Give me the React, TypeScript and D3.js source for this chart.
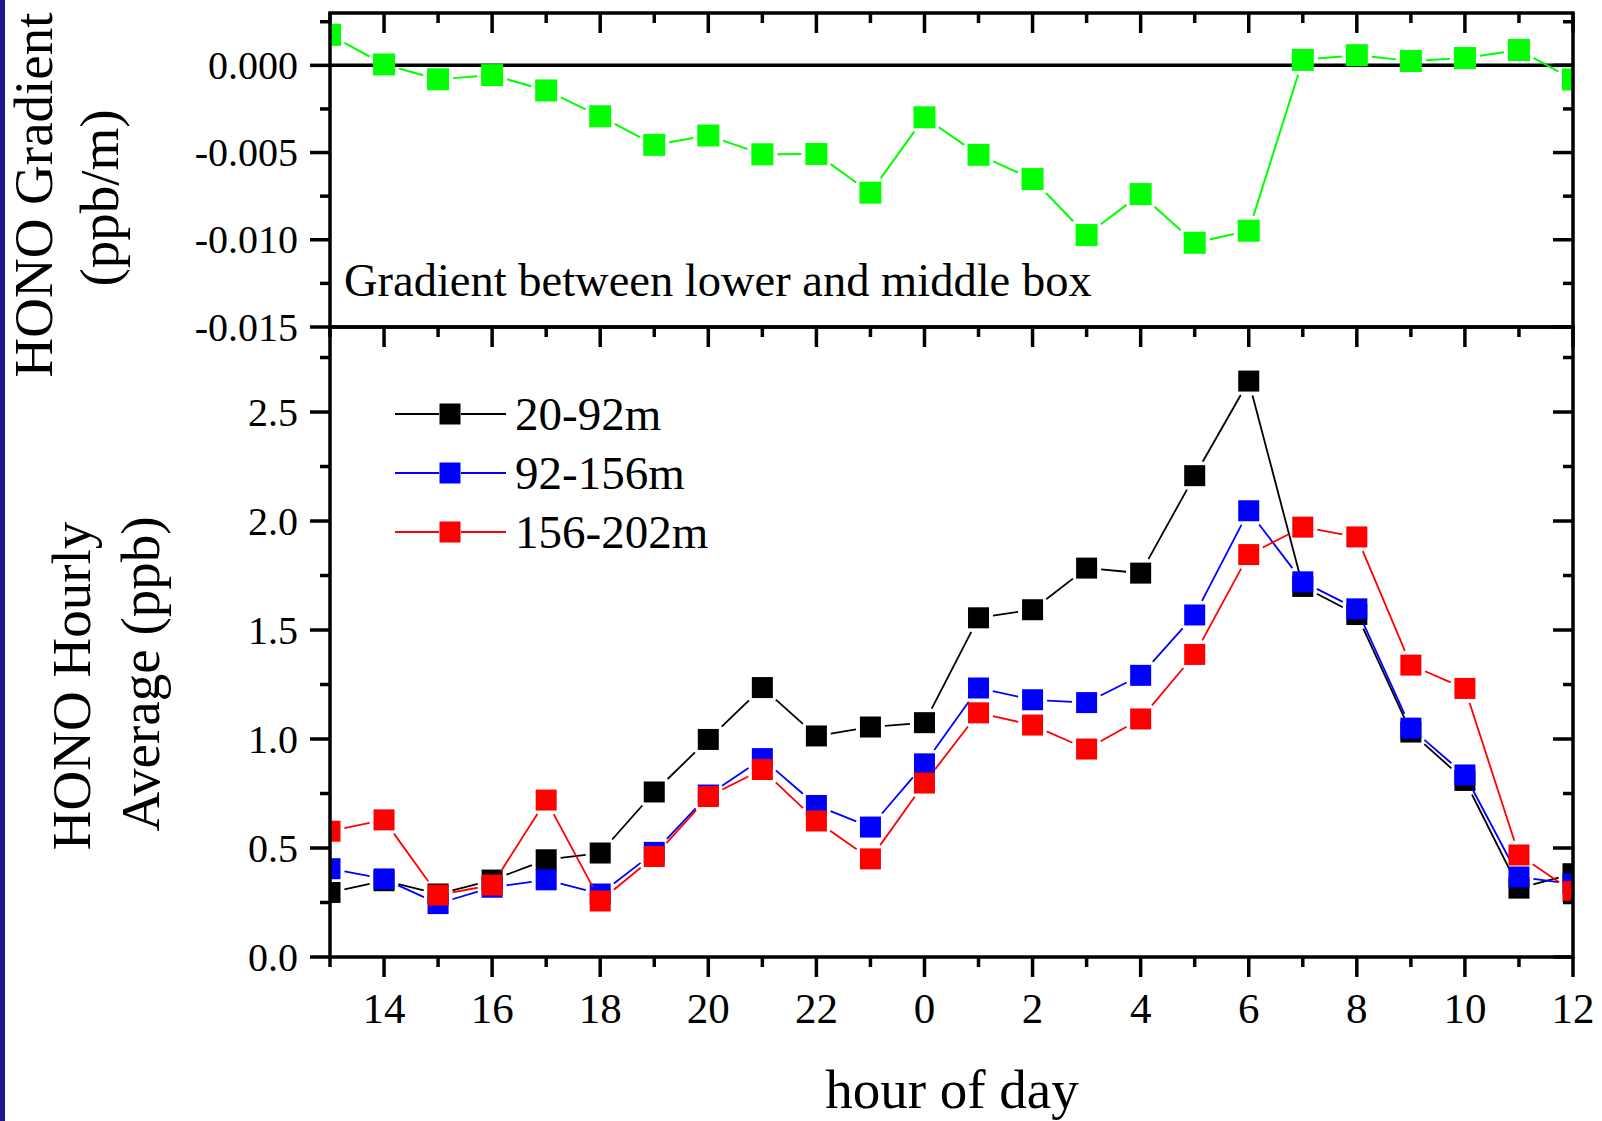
import React from "react";
import * as d3 from "d3";

// ---------- data ----------
const hours = [13, 14, 15, 16, 17, 18, 19, 20, 21, 22, 23, 0, 1, 2, 3, 4, 5, 6, 7, 8, 9, 10, 11, 12];

const gradient = [0.00175, 0.00005, -0.0008, -0.00056, -0.00144, -0.00292, -0.00456, -0.00402, -0.0051, -0.00508, -0.0073, -0.00298,
  -0.00513, -0.00652, -0.00973, -0.00738, -0.01017, -0.00948, 0.00031, 0.00058, 0.00025, 0.00042, 0.00088, -0.00081];

const s20_92 = [0.296, 0.35, 0.289, 0.353, 0.446, 0.477, 0.757, 0.998, 1.236, 1.014, 1.055, 1.075,
  1.556, 1.593, 1.784, 1.761, 2.208, 2.642, 1.70, 1.571, 1.032, 0.81, 0.316, 0.382];
const s92_156 = [0.405, 0.358, 0.245, 0.32, 0.354, 0.289, 0.48, 0.743, 0.91, 0.695, 0.596, 0.886,
  1.234, 1.18, 1.167, 1.292, 1.569, 2.047, 1.721, 1.597, 1.05, 0.835, 0.367, 0.335];
const s156_202 = [0.577, 0.629, 0.284, 0.33, 0.72, 0.257, 0.461, 0.736, 0.86, 0.624, 0.45, 0.798,
  1.12, 1.064, 0.954, 1.092, 1.388, 1.846, 1.972, 1.927, 1.339, 1.232, 0.468, 0.30];

const seriesNames = ["20-92m", "92-156m", "156-202m"];
const seriesColors = ["#000000", "#0000ff", "#ff0000"];
const seriesValues = [s20_92, s92_156, s156_202];

const topTickValues = [0, -0.005, -0.01, -0.015];
const topTickLabels = ["0.000", "-0.005", "-0.010", "-0.015"];
const topMinorTicks = [0.0025, -0.0025, -0.0075, -0.0125];
const botTickValues = [0, 0.5, 1, 1.5, 2, 2.5];
const botTickLabels = ["0.0", "0.5", "1.0", "1.5", "2.0", "2.5"];
const botMinorTicks = [0.25, 0.75, 1.25, 1.75, 2.25, 2.75];

// ---------- layout ----------
const W = 1602, H = 1121;
const L = 330, R = 1573;
const T1 = 13, B1 = 327, B2 = 957;
const FONT = "'Liberation Serif', 'Times New Roman', serif";
const MS = 21; // marker size

const x = d3.scaleLinear().domain([0, hours.length - 1]).range([L, R]);
const yTop = d3.scaleLinear().domain([-0.015, 0.003]).range([B1, T1]);
const yBot = d3.scaleLinear().domain([0, 2.89]).range([B2, B1]);

function trimmedSegments(pts: [number, number][], half: number, gap: number) {
  const segs: { x1: number; y1: number; x2: number; y2: number }[] = [];
  for (let i = 0; i < pts.length - 1; i++) {
    const [ax, ay] = pts[i];
    const [bx, by] = pts[i + 1];
    const dx = bx - ax, dy = by - ay;
    const len = Math.hypot(dx, dy);
    if (len === 0) continue;
    const ux = dx / len, uy = dy / len;
    const t = half / Math.max(Math.abs(ux), Math.abs(uy)) + gap;
    if (2 * t >= len) continue;
    segs.push({ x1: ax + ux * t, y1: ay + uy * t, x2: bx - ux * t, y2: by - uy * t });
  }
  return segs;
}

function Series({ values, y, color, lw, size }: { values: number[]; y: d3.ScaleLinear<number, number>; color: string; lw: number; size: number }) {
  const pts: [number, number][] = values.map((v, i) => [x(i), y(v)]);
  const segs = trimmedSegments(pts, size / 2, 4);
  return (
    <g>
      {segs.map((s, i) => (
        <line key={"l" + i} x1={s.x1} y1={s.y1} x2={s.x2} y2={s.y2} stroke={color} strokeWidth={lw} />
      ))}
      {pts.map(([px, py], i) => (
        <rect key={"m" + i} x={px - size / 2} y={py - size / 2} width={size} height={size} fill={color} />
      ))}
    </g>
  );
}

export default function App() {
  const axisW = 3.5;
  const tickW = 3.5;
  const major = 20, minor = 10;
  const idx = hours.map((_, i) => i);

  return (
    <svg width={W} height={H} style={{ position: "absolute", left: 0, top: 0, background: "#ffffff" }} fontFamily={FONT}>
      <defs>
        <clipPath id="clipTop"><rect x={L} y={T1} width={R - L} height={B1 - T1} /></clipPath>
        <clipPath id="clipBot"><rect x={L} y={B1} width={R - L} height={B2 - B1} /></clipPath>
      </defs>
      <rect x={0} y={0} width={W} height={H} fill="#ffffff" />
      <rect x={0} y={0} width={5} height={H} fill="#1b1690" />

      {/* ---------- top panel ---------- */}
      <g clipPath="url(#clipTop)">
        <line x1={L} x2={R} y1={yTop(0)} y2={yTop(0)} stroke="#000" strokeWidth={3.5} />
        <Series values={gradient} y={yTop} color="#00ff00" lw={2} size={22} />
      </g>
      <text x={344} y={296} fontSize={46.5} fill="#000">Gradient between lower and middle box</text>

      {/* top panel ticks: top axis inward */}
      {idx.map((i) => (
        <line key={"tt" + i} x1={x(i)} x2={x(i)} y1={T1} y2={T1 + (hours[i] % 2 === 0 ? major : minor)} stroke="#000" strokeWidth={tickW} />
      ))}
      {/* top panel left ticks (outward) and right ticks (inward) */}
      {topTickValues.map((v, i) => (
        <g key={"ty" + i}>
          <line x1={L - major} x2={L} y1={yTop(v)} y2={yTop(v)} stroke="#000" strokeWidth={tickW} />
          <line x1={R - major} x2={R} y1={yTop(v)} y2={yTop(v)} stroke="#000" strokeWidth={tickW} />
          <text x={298} y={yTop(v)} dy="0.34em" textAnchor="end" fontSize={40} fill="#000">{topTickLabels[i]}</text>
        </g>
      ))}
      {topMinorTicks.map((v, i) => (
        <g key={"tym" + i}>
          <line x1={L - minor} x2={L} y1={yTop(v)} y2={yTop(v)} stroke="#000" strokeWidth={tickW} />
          <line x1={R - minor} x2={R} y1={yTop(v)} y2={yTop(v)} stroke="#000" strokeWidth={tickW} />
        </g>
      ))}

      {/* ---------- bottom panel ---------- */}
      <g clipPath="url(#clipBot)">
        {seriesValues.map((vals, k) => (
          <Series key={"s" + k} values={vals} y={yBot} color={seriesColors[k]} lw={1.8} size={MS} />
        ))}
      </g>

      {/* legend */}
      {seriesNames.map((name, k) => {
        const cy = 414 + k * 59;
        return (
          <g key={"lg" + k}>
            <line x1={395} x2={439} y1={cy} y2={cy} stroke={seriesColors[k]} strokeWidth={1.8} />
            <line x1={461} x2={506} y1={cy} y2={cy} stroke={seriesColors[k]} strokeWidth={1.8} />
            <rect x={450 - MS / 2} y={cy - MS / 2} width={MS} height={MS} fill={seriesColors[k]} />
            <text x={515} y={cy + 16} fontSize={47} fill="#000">{name}</text>
          </g>
        );
      })}

      {/* bottom panel x ticks: top inward, bottom outward */}
      {idx.map((i) => {
        const len = hours[i] % 2 === 0 ? major : minor;
        return (
          <g key={"bx" + i}>
            <line x1={x(i)} x2={x(i)} y1={B1} y2={B1 + len} stroke="#000" strokeWidth={tickW} />
            <line x1={x(i)} x2={x(i)} y1={B2} y2={B2 + len} stroke="#000" strokeWidth={tickW} />
            {hours[i] % 2 === 0 && (
              <text x={x(i)} y={1023} textAnchor="middle" fontSize={43} fill="#000">{hours[i]}</text>
            )}
          </g>
        );
      })}
      {botTickValues.map((v, i) => (
        <g key={"by" + i}>
          <line x1={L - major} x2={L} y1={yBot(v)} y2={yBot(v)} stroke="#000" strokeWidth={tickW} />
          <line x1={R - major} x2={R} y1={yBot(v)} y2={yBot(v)} stroke="#000" strokeWidth={tickW} />
          <text x={298} y={yBot(v)} dy="0.34em" textAnchor="end" fontSize={40} fill="#000">{botTickLabels[i]}</text>
        </g>
      ))}
      {botMinorTicks.map((v, i) => (
        <g key={"bym" + i}>
          <line x1={L - minor} x2={L} y1={yBot(v)} y2={yBot(v)} stroke="#000" strokeWidth={tickW} />
          <line x1={R - minor} x2={R} y1={yBot(v)} y2={yBot(v)} stroke="#000" strokeWidth={tickW} />
        </g>
      ))}

      {/* frames */}
      <rect x={L} y={T1} width={R - L} height={B1 - T1} fill="none" stroke="#000" strokeWidth={axisW} />
      <rect x={L} y={B1} width={R - L} height={B2 - B1} fill="none" stroke="#000" strokeWidth={axisW} />

      {/* axis titles */}
      <g transform={`translate(52, 195) rotate(-90)`}>
        <text textAnchor="middle" fontSize={55} fill="#000">HONO Gradient</text>
      </g>
      <g transform={`translate(118, 198) rotate(-90)`}>
        <text textAnchor="middle" fontSize={55} fill="#000">(ppb/m)</text>
      </g>
      <g transform={`translate(90, 686) rotate(-90)`}>
        <text textAnchor="middle" fontSize={55} fill="#000">HONO Hourly</text>
      </g>
      <g transform={`translate(159, 674) rotate(-90)`}>
        <text textAnchor="middle" fontSize={55} fill="#000">Average (ppb)</text>
      </g>
      <text x={952} y={1108} textAnchor="middle" fontSize={55} fill="#000">hour of day</text>
    </svg>
  );
}
